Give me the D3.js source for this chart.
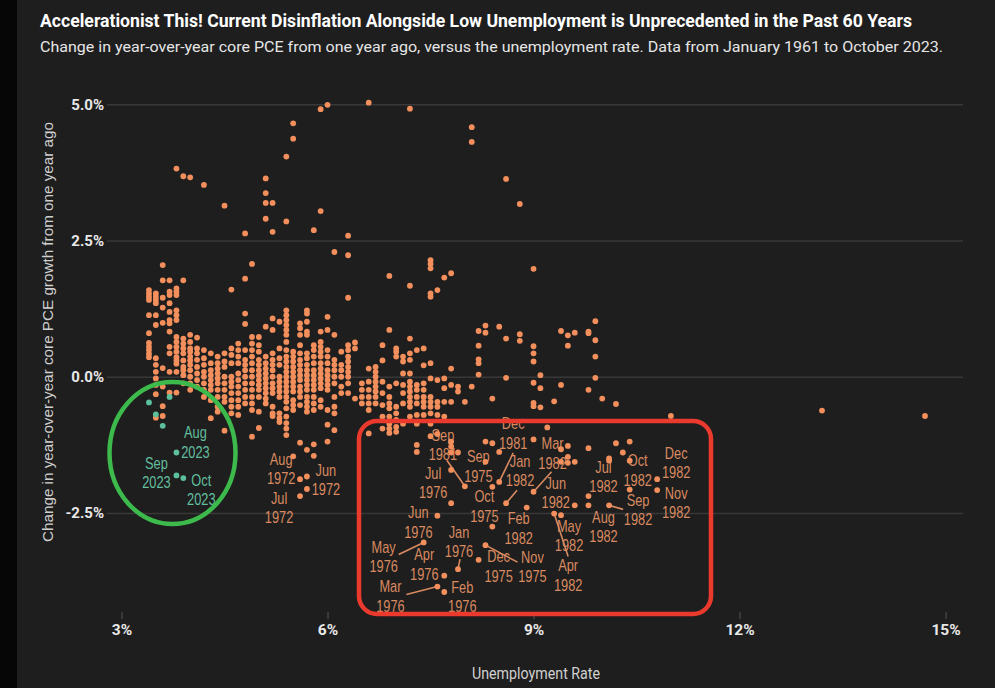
<!DOCTYPE html>
<html><head><meta charset="utf-8">
<script src="https://cdn.jsdelivr.net/npm/d3@7"></script>
<style>
html,body{margin:0;padding:0;background:#1e1e1e;}
svg{display:block;}
</style></head><body>
<svg id="chart" width="995" height="688"></svg>
<script>
// ---- DATA ----
// unemployment-rate columns (%) and the change in YoY core PCE (pp) observed at each
const unemploymentRate = [3.4,3.5,3.6,3.7,3.8,3.9,4.0,4.1,4.2,4.3,4.4,4.5,4.6,4.7,4.8,4.9,5.0,5.1,5.2,5.3,5.4,5.5,5.6,5.7,5.8,5.9,6.0,6.1,6.2,6.3,6.4,6.5,6.6,6.7,6.8,6.9,7.0,7.1,7.2,7.3,7.4,7.5,7.6,7.7,7.8,7.9,8.0,8.1,8.2,8.3,8.4,8.5,8.6,8.8,9.0,9.1,9.2,9.3,9.4,9.5,9.6,9.8,9.9,10.0,10.1,10.2,10.3,10.4,11.0,13.2,14.7];
const pceChange = [
 [1.59,1.53,1.47,1.41,1.13,0.80,0.62,0.55,0.49,0.42,0.36],
 [1.53,1.47,1.41,1.35,1.13,0.95,0.34,0.22,0.09,-0.03,-0.15,-0.32,-0.75],
 [2.05,1.77,1.45,1.27,0.99,0.16,-0.18,-0.54,-0.72],
 [1.77,1.56,1.50,1.35,1.19,1.04,0.98,0.83,0.55,0.43,0.09,-0.29],
 [3.82,1.62,1.56,1.50,1.22,1.13,1.04,0.73,0.64,0.55,0.46,0.36,0.30,0.24,0.09,-0.29],
 [3.68,1.77,0.70,0.61,0.52,0.43,0.30,0.18,0.12,0.03,-0.12],
 [3.66,0.77,0.64,0.52,0.46,0.37,0.30,0.22,0.12,0.00,-0.12,-0.24],
 [0.72,0.52,0.43,0.31,0.18,0.06,-0.06,-0.18],
 [3.52,0.49,0.34,0.22,0.09,0.00,-0.12,-0.24,-0.37],
 [0.43,0.25,0.12,0.03,-0.06,-0.15,-0.24,-0.43,-0.76],
 [0.37,0.25,0.15,0.06,-0.03,-0.12,-0.24,-0.37,-0.55,-0.64],
 [3.14,0.43,0.28,0.18,0.00,-0.12,-0.24,-0.37,-0.46,-0.99],
 [1.60,0.52,0.40,0.25,0.00,-0.09,-0.18,-0.30,-0.43,-0.55,-0.67],
 [0.61,0.49,0.37,0.25,0.06,-0.06,-0.18,-0.30,-0.43,-0.55,-0.70],
 [2.63,1.80,1.16,0.97,0.49,0.31,0.22,0.12,0.00,-0.12,-0.24,-0.37,-0.49],
 [2.07,0.73,0.61,0.49,0.37,0.25,0.12,0.00,-0.12,-0.24,-0.37,-0.49,-0.61,-1.10],
 [0.73,0.58,0.46,0.31,0.22,0.12,0.03,-0.06,-0.15,-0.24,-0.37,-0.64,-0.94],
 [3.64,3.37,3.19,2.90,0.92,0.37,0.25,0.15,0.06,-0.03,-0.12,-0.21,-0.30,-0.40,-0.49],
 [3.19,2.66,1.07,0.86,0.43,0.31,0.22,0.12,0.00,-0.12,-0.21,-0.30,-0.55,-0.67,-0.72],
 [1.01,0.52,0.34,0.22,0.00,-0.09,-0.18,-0.27,-0.37,-0.67,-0.76,-0.83],
 [4.04,2.85,1.22,1.13,1.04,0.95,0.86,0.77,0.64,0.49,0.37,0.28,0.18,0.09,0.00,-0.09,-0.18,-0.27,-0.37,-0.46,-0.58,-0.73,-0.85,-0.95,-1.07],
 [4.65,4.37,0.46,0.37,0.28,0.18,0.09,0.00,-0.09,-0.18,-0.27,-0.43,-0.52,-0.61],
 [0.98,0.89,0.77,0.58,0.43,0.31,0.22,0.12,0.03,-0.06,-0.18,-0.27,-0.37,-0.52,-1.21,-1.88],
 [1.22,1.16,1.01,0.83,0.77,0.43,0.34,0.22,0.12,0.03,-0.06,-0.15,-0.24,-0.37,-0.46,-0.55,-0.64,-1.34,-1.83],
 [2.69,0.58,0.49,0.37,0.25,0.12,0.03,-0.06,-0.15,-0.24,-0.37,-0.49,-0.61,-1.24,-1.45],
 [4.91,3.04,0.83,0.64,0.55,0.46,0.37,0.25,0.15,0.06,-0.03,-0.12,-0.21,-0.43,-0.55],
 [4.99,1.10,0.86,0.49,0.37,0.25,0.12,0.03,-0.06,-0.15,-0.24,-0.61,-0.88,-1.19],
 [2.29,0.77,0.31,0.22,0.12,0.00,-0.12,-0.37,-0.55,-0.67,-0.98],
 [0.46,0.22,0.12,0.00,-0.18,-0.30],
 [2.59,2.23,1.45,0.58,0.49,0.37,0.28,0.18,0.09,0.00,-0.12,-0.30],
 [0.63,0.52,-0.40],
 [-0.12,-0.24,-0.37,-0.49],
 [5.03,0.15,-0.09,-0.24,-0.37,-0.49,-0.61,-1.04],
 [0.18,0.09,0.00,-0.09,-0.18,-0.27,-0.37,-0.49],
 [0.58,0.30,-0.09,-0.30,-0.52,-0.73,-0.95],
 [1.85,0.86,-0.18,-0.37,-0.49,-0.58,-0.73,-0.86,-0.95,-1.03],
 [0.52,0.46,0.37,-0.12,-0.55,-0.67,-0.79,-0.92,-1.01],
 [0.37,0.28,0.06,-0.15,-0.30,-0.49,-0.86],
 [4.92,1.67,0.70,0.43,0.31,0.06,-0.09,-0.18,-0.27,-0.37,-0.46,-0.55,-0.73],
 [0.49,-0.15,-0.24,-0.37,-0.49,-0.70,-0.86,-1.25,-1.38],
 [0.52,0.21,-0.12,-0.24,-0.37,-0.46,-0.55,-0.70],
 [2.14,2.07,1.99,1.53,1.47,0.25,-0.03,-0.37,-0.46,-0.55,-0.67,-0.86,-1.09],
 [1.59,-0.06,-0.46,-0.55,-0.70,-1.05],
 [1.82,-0.03,-0.21,-0.46,-0.73],
 [1.90,0.15,-0.15,-0.46,-1.19,-1.28,-1.39,-1.71],
 [-0.18,-0.27,-1.39],
 [-0.46],
 [4.58,4.31,-0.18],
 [0.84,0.57,0.32,0.25,0.04],
 [0.94,0.81,-1.19,-1.56],
 [-0.40,-1.22],
 [0.92,-1.38],
 [3.63,0.70,-0.02],
 [3.17,0.78,0.66],
 [1.98,0.56,0.43,0.28,-0.11,-0.48,-0.54,-1.15],
 [0.03,-0.21,-0.56],
 [-0.93],
 [-0.45],
 [0.84,-0.15,-1.33,-1.56],
 [0.76,0.57,-1.27,-1.47,-1.58],
 [0.81,-1.56],
 [0.83,0.80,-0.24,-1.31],
 [1.02,0.67,0.37,-0.02],
 [-0.40],
 [-1.50,-1.54],
 [-0.50,-1.22],
 [-1.39],
 [-1.19,-1.54],
 [-0.72],
 [-0.62],
 [-0.72]
];

// 2023 observations (teal)
const recentRate   = [3.4, 3.5, 3.6, 3.7, 3.8, 3.8, 3.9];
const recentChange = [-0.47, -0.69, -0.90, -0.37, -1.39, -1.81, -1.86];
const recentMonth  = [null, null, null, null, "Aug", "Sep", "Oct"];
const recentYear   = [null, null, null, null, "2023", "2023", "2023"];

// labelled historical observations
const annoMonth  = ["Aug","Jun","Jul","Sep","Jul","Jun","May","Apr","Mar","Feb","Jan","Dec","Nov","Oct","Sep","Dec","Jan","Feb","Mar","Apr","May","Jun","Jul","Aug","Sep","Oct","Nov","Dec"];
const annoYear   = ["1972","1972","1972","1981","1976","1976","1976","1976","1976","1976","1976","1975","1975","1975","1975","1981","1982","1982","1982","1982","1982","1982","1982","1982","1982","1982","1982","1982"];
const annoRate   = [5.5,5.7,5.6,8.0,7.8,7.6,7.4,7.7,7.6,7.7,7.9,8.2,8.3,8.4,8.4,8.5,8.6,8.9,9.0,9.3,9.4,9.6,9.8,9.8,10.1,10.4,10.8,10.8];
const annoChange = [-1.46,-2.06,-2.19,-2.01,-2.32,-2.55,-3.04,-3.65,-3.85,-3.95,-3.53,-3.36,-3.09,-2.75,-2.02,-1.93,-2.32,-2.40,-2.11,-2.51,-2.54,-2.36,-2.19,-2.36,-2.36,-2.07,-2.08,-1.88];

const xTickValues = [3, 6, 9, 12, 15];
const yTickValues = [-2.5, 0, 2.5, 5];

// ---- LAYOUT (pixel offsets of annotation text / leader lines) ----
const annoLayout = [
 {dx:-12,dy:3},{dx:19,dy:-19},{dx:-21,dy:2},{dx:-22,dy:-51,lx:-18,ly:-26},
 {dx:-18,dy:-30},{dx:-19,dy:-3},{dx:-40,dy:5,lx:-25,ly:12},{dx:-20,dy:-21},
 {dx:-47,dy:0,lx:-31,ly:8},{dx:18,dy:-5},{dx:1,dy:-37,lx:2,ly:-10},{dx:20,dy:-3},
 {dx:47,dy:12,lx:32,ly:17},{dx:-8,dy:-30},{dx:-14,dy:-30},{dx:14,dy:-58,lx:14,ly:-29},
 {dx:14,dy:-42,lx:11,ly:-13},{dx:-8,dy:11},{dx:19,dy:-48,lx:18,ly:-20},{dx:14,dy:52,lx:14,ly:43},
 {dx:8,dy:11},{dx:-19,dy:-22},{dx:15,dy:-29},{dx:15,dy:12},
 {dx:29,dy:-5,lx:14,ly:4},{dx:8,dy:-29},{dx:19,dy:3},{dx:19,dy:-26}
];
const recentLayout = [null,null,null,null,{dx:19,dy:-20},{dx:-20,dy:-12},{dx:18,dy:2}];

// ---- DRAW ----
const W = 995, H = 688;
const svg = d3.select("#chart");
svg.append("rect").attr("width", W).attr("height", H).attr("fill", "#1e1e1e");
svg.append("rect").attr("width", 17).attr("height", H).attr("fill", "#060606");

const x = d3.scaleLinear().domain([3, 15]).range([121.5, 945.6]);
const y = d3.scaleLinear().domain([-2.5, 5]).range([513, 104.3]);

const ORANGE = "#f28f5c", ORANGE_TXT = "#d98a60", TEAL = "#5cc09c", TEAL_TXT = "#62bf9f";

// title + subtitle
svg.append("text").attr("x", 40).attr("y", 27)
  .attr("fill", "#ffffff").attr("font-family", "Roboto, 'Liberation Sans', sans-serif")
  .attr("font-weight", 700).attr("font-size", 17.5)
  .attr("textLength", 872).attr("lengthAdjust", "spacingAndGlyphs")
  .text("Accelerationist This! Current Disinflation Alongside Low Unemployment is Unprecedented in the Past 60 Years");
svg.append("text").attr("x", 40).attr("y", 52)
  .attr("fill", "#e6e6e6").attr("font-family", "Roboto, 'Liberation Sans', sans-serif")
  .attr("font-size", 15.5)
  .attr("textLength", 903).attr("lengthAdjust", "spacingAndGlyphs")
  .text("Change in year-over-year core PCE from one year ago, versus the unemployment rate. Data from January 1961 to October 2023.");

// y axis with grid
const yAxis = d3.axisLeft(y).tickValues(yTickValues)
  .tickFormat(d => d.toFixed(1) + "%").tickSize(-856).tickPadding(3);
const gy = svg.append("g").attr("transform", "translate(107,0)").call(yAxis);
gy.select(".domain").remove();
gy.selectAll(".tick line").attr("stroke", "#383838").attr("stroke-width", 1.5);
gy.selectAll(".tick text").attr("fill", "#e8e8e8").attr("font-size", 15)
  .attr("font-weight", 700).attr("font-family", "Roboto, 'Liberation Sans', sans-serif");

// x axis
const xAxis = d3.axisBottom(x).tickValues(xTickValues).tickFormat(d => d + "%")
  .tickSize(7).tickPadding(5);
const gx = svg.append("g").attr("transform", "translate(0,612)").call(xAxis);
gx.select(".domain").remove();
gx.selectAll(".tick line").attr("stroke", "#555").attr("stroke-width", 1);
gx.selectAll(".tick text").attr("fill", "#e8e8e8").attr("font-size", 15.5)
  .attr("font-weight", 700).attr("font-family", "Roboto, 'Liberation Sans', sans-serif");

// axis titles
svg.append("text").attr("x", 536).attr("y", 679).attr("text-anchor", "middle")
  .attr("fill", "#d0d0d0").attr("font-size", 16)
  .attr("font-family", "Roboto, 'Liberation Sans', sans-serif")
  .attr("textLength", 128).attr("lengthAdjust", "spacingAndGlyphs")
  .text("Unemployment Rate");
svg.append("text").attr("transform", "translate(53,332) rotate(-90)")
  .attr("text-anchor", "middle").attr("fill", "#d0d0d0").attr("font-size", 14)
  .attr("font-family", "'Liberation Sans', Arial, sans-serif")
  .attr("textLength", 420).attr("lengthAdjust", "spacingAndGlyphs")
  .text("Change in year-over-year core PCE growth from one year ago");

// points
const points = [];
unemploymentRate.forEach((u, i) => pceChange[i].forEach(v => points.push({u, v})));
annoRate.forEach((u, i) => points.push({u, v: annoChange[i]}));

const annoG = svg.append("g");
// leader lines first
annoRate.forEach((u, i) => {
  const L = annoLayout[i];
  if (L.lx === undefined) return;
  const px = x(u), py = y(annoChange[i]);
  annoG.append("line").attr("x1", px).attr("y1", py)
    .attr("x2", px + L.lx).attr("y2", py + L.ly)
    .attr("stroke", ORANGE_TXT).attr("stroke-width", 1.6);
});

svg.append("g").selectAll("circle").data(points).join("circle")
  .attr("cx", d => x(d.u)).attr("cy", d => y(d.v)).attr("r", 2.9)
  .attr("fill", ORANGE);

svg.append("g").selectAll("circle").data(recentRate.map((u, i) => ({u, v: recentChange[i]})))
  .join("circle").attr("cx", d => x(d.u)).attr("cy", d => y(d.v)).attr("r", 2.9)
  .attr("fill", TEAL);

function twoLine(g, cx, cy, a, b, color) {
  [a, b].forEach((t, k) => {
    g.append("text").attr("transform", `translate(${cx},${cy + k * 19.5}) scale(0.8,1)`)
      .attr("text-anchor", "middle").attr("dominant-baseline", "central")
      .attr("fill", color).attr("font-size", 16)
      .attr("font-family", "'Liberation Sans', Arial, sans-serif").text(t);
  });
}
annoRate.forEach((u, i) => {
  const L = annoLayout[i];
  twoLine(annoG, x(u) + L.dx, y(annoChange[i]) + L.dy, annoMonth[i], annoYear[i], ORANGE_TXT);
});
recentRate.forEach((u, i) => {
  const L = recentLayout[i];
  if (!L) return;
  twoLine(annoG, x(u) + L.dx, y(recentChange[i]) + L.dy, recentMonth[i], recentYear[i], TEAL_TXT);
});

// highlight shapes
svg.append("rect").attr("x", 359).attr("y", 421).attr("width", 352).attr("height", 193)
  .attr("rx", 18).attr("fill", "none").attr("stroke", "#ea3a2e").attr("stroke-width", 4.5);
svg.append("ellipse").attr("cx", 172.5).attr("cy", 453).attr("rx", 63).attr("ry", 71)
  .attr("fill", "none").attr("stroke", "#3dba4c").attr("stroke-width", 4.5);
</script>
</body></html>
